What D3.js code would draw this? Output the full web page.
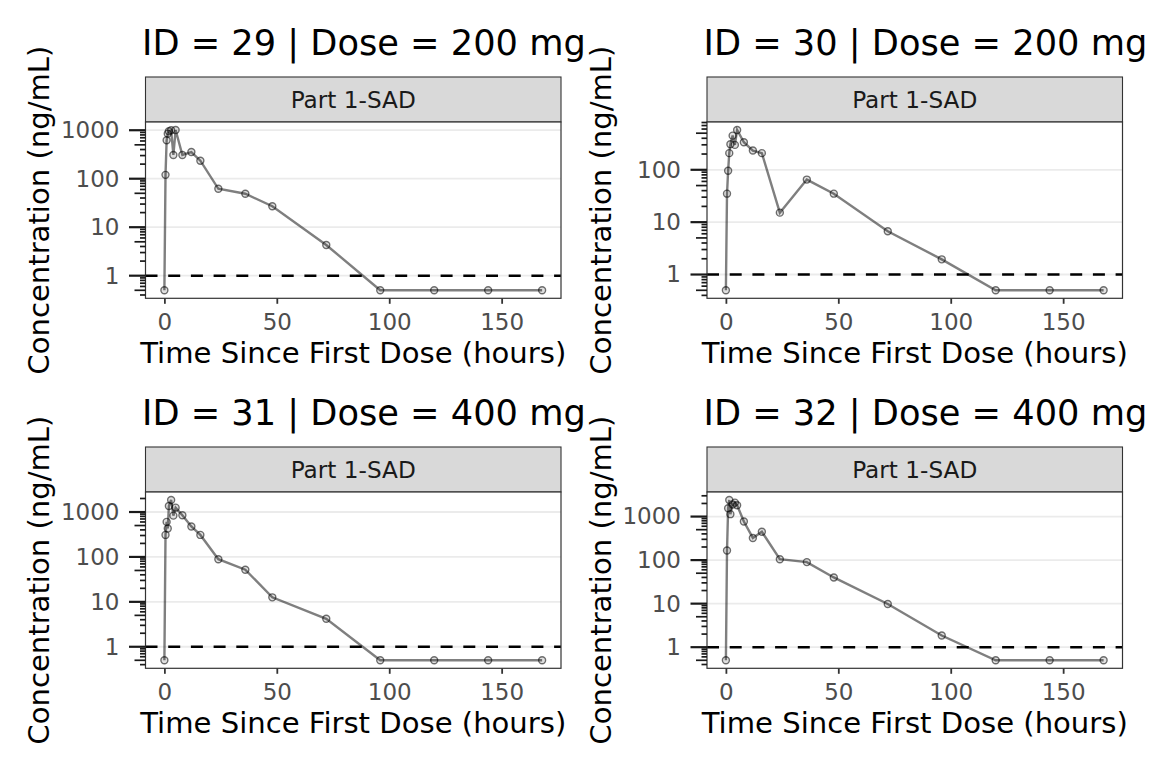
<!DOCTYPE html>
<html lang="en">
<head>
<meta charset="UTF-8">
<title>Concentration-time profiles</title>
<script src="https://cdnjs.cloudflare.com/ajax/libs/d3/7.8.5/d3.min.js"></script>
<style>
    body { margin: 0; background: #fff; }
    svg { display: block; font-family: "DejaVu Sans", sans-serif; }
</style>
</head>
<body>
<svg id="chart" width="1152" height="768"></svg>
<script>
    // nominal sampling times (hours)
    const times = [0, 0.5, 1, 1.5, 2, 3, 4, 5, 8, 12, 16, 24, 36, 48, 72, 96, 120, 144, 168];

    const subjectIds = [29, 30, 31, 32];
    const doses = [200, 200, 400, 400];
    const partLabel = "Part 1-SAD";
    const lloq = 1;

    // concentrations (ng/mL), BLQ shown as 0.5
    const conc29 = [0.5, 120, 620, 850, 950, 1000, 309, 1010, 309, 355, 235, 62, 49, 27, 4.3, 0.5, 0.5, 0.5, 0.5];
    const conc30 = [0.5, 35, 96, 208, 308, 449, 299, 575, 336, 233, 208, 15.2, 65, 35, 6.7, 1.95, 0.5, 0.5, 0.5];
    const conc31 = [0.5, 309, 603, 431, 1362, 1850, 830, 1250, 850, 477, 309, 89, 52, 12.6, 4.2, 0.5, 0.5, 0.5, 0.5];
    const conc32 = [0.5, 166, 1550, 2400, 1135, 1900, 2090, 1820, 770, 323, 448, 105, 90, 40, 9.8, 1.85, 0.5, 0.5, 0.5];
    const concBySubject = [conc29, conc30, conc31, conc32];

    const xTicks = [0, 50, 100, 150];
    const yLabelTicks = [1, 10, 100, 1000];

    const svg = d3.select("#chart");

    // panel geometry
    const panelW = 415.5, panelH = 176.3, stripH = 45;
    const origins = [[145.5, 122], [707, 122], [145.5, 492], [707, 492]];

    subjectIds.forEach((id, i) => {
        const [left, top] = origins[i];
        const data = times.map((t, j) => ({ t: t, c: concBySubject[i][j] }));

        // x scale with ggplot-like 5% expansion
        const tExt = d3.extent(times);
        const tPad = (tExt[1] - tExt[0]) * 0.05;
        const x = d3.scaleLinear()
            .domain([tExt[0] - tPad, tExt[1] + tPad])
            .range([0, panelW]);

        // log y scale with expansion in log space
        const lo = Math.log10(d3.min(data, d => d.c));
        const hi = Math.log10(d3.max(data, d => d.c));
        const lPad = (hi - lo) * 0.05;
        const y = d3.scaleLog()
            .domain([Math.pow(10, lo - lPad), Math.pow(10, hi + lPad)])
            .range([panelH, 0]);

        const g = svg.append("g").attr("transform", `translate(${left},${top})`);

        // title
        svg.append("text")
            .attr("x", left - 3.5)
            .attr("y", top - 67)
            .attr("font-size", 35.2)
            .attr("fill", "#000")
            .text(`ID = ${id} | Dose = ${doses[i]} mg`);

        // strip
        g.append("rect")
            .attr("x", 0).attr("y", -stripH)
            .attr("width", panelW).attr("height", stripH)
            .attr("fill", "#d9d9d9")
            .attr("stroke", "#333")
            .attr("stroke-width", 1.1);
        g.append("text")
            .attr("x", panelW / 2)
            .attr("y", -stripH / 2 + 8.4)
            .attr("text-anchor", "middle")
            .attr("font-size", 23.2)
            .attr("fill", "#1a1a1a")
            .text(partLabel);

        // panel background + grid
        g.append("rect")
            .attr("width", panelW).attr("height", panelH)
            .attr("fill", "#fff");

        const [dMin, dMax] = y.domain();
        const majors = yLabelTicks.filter(v => v >= dMin && v <= dMax);

        g.selectAll(".grid")
            .data(majors)
            .enter()
            .append("line")
            .attr("x1", 0).attr("x2", panelW)
            .attr("y1", d => y(d)).attr("y2", d => y(d))
            .attr("stroke", "#ebebeb")
            .attr("stroke-width", 1.8);

        // LLOQ reference line
        g.append("line")
            .attr("x1", 0).attr("x2", panelW)
            .attr("y1", y(lloq)).attr("y2", y(lloq))
            .attr("stroke", "#000")
            .attr("stroke-width", 2.5)
            .attr("stroke-dasharray", "12,10.7");

        // profile line
        const line = d3.line().x(d => x(d.t)).y(d => y(d.c));
        g.append("path")
            .datum(data)
            .attr("d", line)
            .attr("fill", "none")
            .attr("stroke", "rgba(0,0,0,0.5)")
            .attr("stroke-width", 2.4);

        // points
        g.selectAll(".pt")
            .data(data)
            .enter()
            .append("circle")
            .attr("cx", d => x(d.t))
            .attr("cy", d => y(d.c))
            .attr("r", 3.5)
            .attr("fill", "rgba(0,0,0,0.12)")
            .attr("stroke", "rgba(0,0,0,0.55)")
            .attr("stroke-width", 1.4);

        // panel border
        g.append("rect")
            .attr("width", panelW).attr("height", panelH)
            .attr("fill", "none")
            .attr("stroke", "#333")
            .attr("stroke-width", 1.2);

        // log ticks on the left, outside the panel
        const logTicks = [];
        for (let e = Math.floor(Math.log10(dMin)); e <= Math.ceil(Math.log10(dMax)); e++) {
            for (let k = 1; k <= 9; k++) {
                const v = k * Math.pow(10, e);
                if (v >= dMin && v <= dMax) logTicks.push({ v: v, k: k });
            }
        }
        g.selectAll(".logtick")
            .data(logTicks)
            .enter()
            .append("line")
            .attr("x1", d => d.k === 1 ? -16.5 : d.k === 5 ? -11 : -5.5)
            .attr("x2", 0)
            .attr("y1", d => y(d.v)).attr("y2", d => y(d.v))
            .attr("stroke", "#1a1a1a")
            .attr("stroke-width", d => d.k === 1 ? 2.2 : 1.7);

        // y axis labels
        const yAxis = g.append("g")
            .call(d3.axisLeft(y).tickValues(majors).tickFormat(d3.format("d")).tickSize(0).tickPadding(26));
        yAxis.select(".domain").remove();
        yAxis.selectAll("text")
            .attr("font-size", 23)
            .attr("font-family", "DejaVu Sans, sans-serif")
            .attr("fill", "#4d4d4d");

        // x axis
        const xAxis = g.append("g")
            .attr("transform", `translate(0,${panelH})`)
            .call(d3.axisBottom(x).tickValues(xTicks).tickSize(5.5).tickPadding(9.5));
        xAxis.select(".domain").remove();
        xAxis.selectAll("line").attr("stroke", "#333").attr("stroke-width", 1.8);
        xAxis.selectAll("text")
            .attr("font-size", 23)
            .attr("font-family", "DejaVu Sans, sans-serif")
            .attr("fill", "#4d4d4d");

        // axis titles
        g.append("text")
            .attr("x", panelW / 2)
            .attr("y", panelH + 64.5)
            .attr("text-anchor", "middle")
            .attr("font-size", 29.1)
            .attr("fill", "#000")
            .text("Time Since First Dose (hours)");

        g.append("text")
            .attr("transform", `translate(-96.5,${panelH / 2}) rotate(-90)`)
            .attr("text-anchor", "middle")
            .attr("font-size", 29.1)
            .attr("fill", "#000")
            .text("Concentration (ng/mL)");
    });
</script>
</body>
</html>
